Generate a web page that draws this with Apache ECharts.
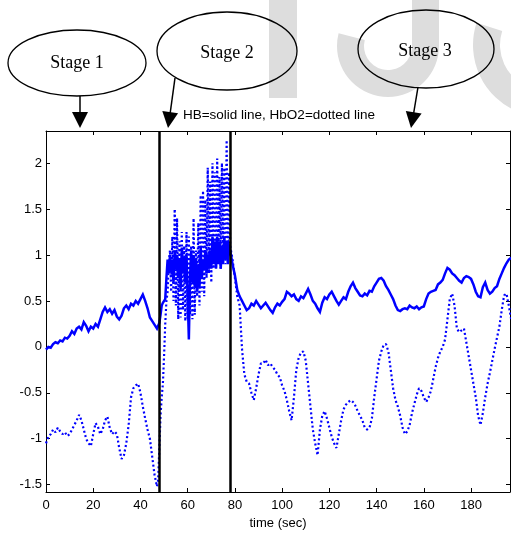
<!DOCTYPE html>
<html><head><meta charset="utf-8">
<script src="https://cdn.jsdelivr.net/npm/echarts@6/dist/echarts.min.js"></script>
<style>html,body{margin:0;padding:0;background:#fff}#c{width:511px;height:535px}</style>
</head><body><div id="c"></div>
<script>
// ---- data ----
const timeStage1 = [0,1,2,3,4,5,6,7,8,9,10,11,12,13,14,15,16,17,18,19,20,21,22,23,24,25,26,27,28,29,30,31,32,33,34,35,36,37,38,39,40,41,42,43,44,45,46,47];
const hbStage1 = [-0.03,0.00,-0.01,0.03,0.05,0.04,0.07,0.06,0.10,0.09,0.12,0.17,0.14,0.20,0.22,0.19,0.27,0.23,0.17,0.22,0.20,0.25,0.22,0.30,0.38,0.43,0.38,0.41,0.36,0.40,0.33,0.30,0.34,0.42,0.45,0.41,0.47,0.45,0.50,0.47,0.52,0.57,0.50,0.42,0.32,0.28,0.24,0.20];
const hbo2Stage1 = [-1.05,-0.98,-0.95,-0.90,-0.93,-0.88,-0.92,-0.95,-0.93,-0.97,-0.95,-0.90,-0.85,-0.80,-0.74,-0.80,-0.90,-1.00,-1.05,-1.08,-0.95,-0.83,-0.87,-0.95,-0.90,-0.80,-0.76,-0.88,-0.95,-0.92,-0.95,-1.10,-1.22,-1.18,-1.05,-0.85,-0.55,-0.45,-0.42,-0.40,-0.50,-0.65,-0.78,-0.90,-1.00,-1.20,-1.40,-1.52];

const timeStage2 = [47.5,48,48.5,49,49.5,50,50.5,51,51.5,52,52.5,53,53.5,54,54.5,55,55.5,56,56.5,57,57.5,58,58.5,59,59.5,60,60.5,61,61.5,62,62.5,63,63.5,64,64.5,65,65.5,66,66.5,67,67.5,68,68.5,69,69.5,70,70.5,71,71.5,72,72.5,73,73.5,74,74.5,75,75.5,76,76.5,77,77.5,78];
const hbStage2 = [0.22,0.26,0.35,0.45,0.48,0.50,0.52,0.75,0.95,0.80,1.00,0.85,0.95,0.70,1.05,0.85,1.00,0.75,0.95,0.62,1.08,0.80,0.98,0.70,1.00,0.55,0.08,0.75,1.05,0.70,1.00,0.65,0.95,0.60,0.90,0.65,1.10,0.75,0.95,0.85,1.05,0.80,1.00,0.85,1.05,0.85,1.20,0.90,1.15,0.85,1.20,0.90,1.15,0.85,1.10,0.90,1.20,0.95,1.15,0.90,1.10,1.05];
const hbo2Stage2 = [-1.45,-1.10,-0.75,-0.55,-0.40,-0.10,0.25,0.50,0.60,0.90,1.05,0.60,1.20,0.50,1.50,0.45,1.40,0.30,1.15,0.32,1.25,0.40,1.10,0.28,1.25,0.30,1.20,0.35,1.10,0.30,1.40,0.35,1.05,0.55,1.35,0.45,1.65,0.60,1.70,0.55,1.60,0.75,1.95,0.80,1.80,0.70,2.00,0.85,1.90,0.85,2.05,0.90,1.85,0.85,2.00,0.95,1.95,0.90,2.25,1.00,1.90,1.10];

const timeStage3 = [79,80,81,82,83,84,85,86,87,88,89,90,91,92,93,94,95,96,97,98,99,100,101,102,103,104,105,106,107,108,109,110,111,112,113,114,115,116,117,118,119,120,121,122,123,124,125,126,127,128,129,130,131,132,133,134,135,136,137,138,139,140,141,142,143,144,145,146,147,148,149,150,151,152,153,154,155,156,157,158,159,160,161,162,163,164,165,166,167,168,169,170,171,172,173,174,175,176,177,178,179,180,181,182,183,184,185,186,187,188,189,190,191,192,193,194,195,196,197];
const hbStage3 = [0.90,0.78,0.62,0.55,0.50,0.45,0.40,0.42,0.47,0.45,0.50,0.46,0.42,0.45,0.48,0.44,0.40,0.37,0.43,0.47,0.45,0.49,0.52,0.60,0.58,0.55,0.57,0.52,0.50,0.55,0.53,0.58,0.63,0.57,0.50,0.47,0.42,0.38,0.48,0.54,0.52,0.57,0.60,0.55,0.50,0.46,0.50,0.54,0.52,0.60,0.66,0.70,0.64,0.60,0.56,0.55,0.58,0.56,0.61,0.60,0.66,0.70,0.74,0.75,0.72,0.66,0.62,0.57,0.52,0.45,0.40,0.39,0.41,0.42,0.41,0.45,0.43,0.42,0.44,0.41,0.43,0.44,0.52,0.58,0.60,0.61,0.62,0.68,0.70,0.73,0.80,0.86,0.84,0.80,0.78,0.75,0.72,0.70,0.75,0.77,0.76,0.74,0.68,0.60,0.55,0.54,0.65,0.70,0.62,0.58,0.60,0.64,0.66,0.74,0.80,0.86,0.91,0.95,0.97];
const hbo2Stage3 = [0.95,0.75,0.55,0.45,-0.02,-0.30,-0.38,-0.40,-0.50,-0.58,-0.45,-0.30,-0.18,-0.18,-0.14,-0.20,-0.18,-0.22,-0.25,-0.30,-0.33,-0.42,-0.48,-0.58,-0.70,-0.80,-0.55,-0.25,-0.12,-0.06,-0.05,-0.15,-0.40,-0.65,-0.90,-1.05,-1.18,-0.90,-0.75,-0.70,-0.78,-0.88,-0.98,-1.05,-1.10,-0.95,-0.80,-0.68,-0.63,-0.60,-0.58,-0.60,-0.64,-0.70,-0.75,-0.80,-0.88,-0.90,-0.88,-0.78,-0.55,-0.35,-0.15,-0.05,0.02,0.03,-0.05,-0.25,-0.45,-0.58,-0.65,-0.75,-0.88,-0.95,-0.92,-0.85,-0.72,-0.62,-0.52,-0.45,-0.48,-0.55,-0.60,-0.55,-0.48,-0.35,-0.22,-0.12,-0.05,0.00,0.08,0.30,0.52,0.58,0.45,0.20,0.16,0.18,0.20,0.05,-0.10,-0.25,-0.40,-0.55,-0.75,-0.85,-0.72,-0.55,-0.40,-0.28,-0.15,-0.02,0.10,0.22,0.40,0.56,0.58,0.45,0.30];

const stageBoundaries = [48, 78];
const stageLabels = ['Stage 1', 'Stage 2', 'Stage 3'];
const xTicks = [0,20,40,60,80,100,120,140,160,180];
const yTicks = [-1.5,-1,-0.5,0,0.5,1,1.5,2];
const titleText = 'HB=solid line, HbO2=dotted line';
const xName = 'time (sec)';

// ---- build ----
const time = timeStage1.concat(timeStage2, timeStage3);
const hb = hbStage1.concat(hbStage2, hbStage3);
const hbo2 = hbo2Stage1.concat(hbo2Stage2, hbo2Stage3);
const hbData = time.map((t, i) => [t, hb[i]]);
const hbo2Data = time.map((t, i) => [t, hbo2[i]]);

const X_MIN = 0, X_MAX = 196.5, Y_MIN = -1.58, Y_MAX = 2.35;
const labelFont = {color:'#000', fontSize:13, fontFamily:'Liberation Sans, Arial, sans-serif'};

function xAxisDef(pos, showLabel) {
  return {
    type:'value', position:pos, min:X_MIN, max:X_MAX,
    axisLine:{show:true, onZero:false, lineStyle:{color:'#000', width:1}},
    axisTick:{show:true, inside:true, length:4, customValues:xTicks, lineStyle:{color:'#000'}},
    axisLabel:Object.assign({show:showLabel, customValues:xTicks, margin:7}, labelFont),
    splitLine:{show:false},
    name: showLabel ? xName : '', nameLocation:'middle', nameGap:25,
    nameTextStyle:labelFont
  };
}
function yAxisDef(pos, showLabel) {
  return {
    type:'value', position:pos, min:Y_MIN, max:Y_MAX,
    axisLine:{show:true, onZero:false, lineStyle:{color:'#000', width:1}},
    axisTick:{show:true, inside:true, length:4, customValues:yTicks, lineStyle:{color:'#000'}},
    axisLabel:Object.assign({show:showLabel, customValues:yTicks, margin:4}, labelFont),
    splitLine:{show:false}
  };
}

const wm = '#dddddd';
const ellipses = [
  {cx:77, cy:63, rx:69, ry:33, tx:77, ty:63},
  {cx:227, cy:51, rx:70, ry:39, tx:227, ty:53},
  {cx:426, cy:49, rx:68, ry:39, tx:425, ty:51}
];
const graphics = [
  {type:'rect', shape:{x:269, y:0, width:28, height:98}, style:{fill:wm}, z:-10},
  {type:'rect', shape:{x:412, y:0, width:27, height:46}, style:{fill:wm}, z:-10},
  {type:'sector', shape:{cx:388, cy:46, r:51, r0:24, startAngle:0, endAngle:Math.PI*1.08, clockwise:true}, style:{fill:wm}, z:-10},
  {type:'sector', shape:{cx:545, cy:45, r:72, r0:45, startAngle:Math.PI*0.62, endAngle:Math.PI*1.1, clockwise:true}, style:{fill:wm}, z:-10}
];
ellipses.forEach((e, i) => {
  graphics.push({type:'ellipse', shape:{cx:e.cx, cy:e.cy, rx:e.rx, ry:e.ry}, style:{fill:'none', stroke:'#000', lineWidth:1.3}, z:5});
  graphics.push({type:'text', x:e.tx, y:e.ty, style:{text:stageLabels[i], fill:'#000', font:'18px "Liberation Serif", "Times New Roman", serif', align:'center', verticalAlign:'middle'}, z:6});
});
// arrows
graphics.push({type:'line', shape:{x1:80, y1:96, x2:80, y2:114}, style:{stroke:'#000', lineWidth:1.5}, z:5});
graphics.push({type:'polygon', shape:{points:[[72,112],[88,112],[80,128]]}, style:{fill:'#000'}, z:5});
graphics.push({type:'line', shape:{x1:175, y1:78, x2:170.2, y2:113}, style:{stroke:'#000', lineWidth:1.5}, z:5});
graphics.push({type:'polygon', shape:{points:[[178.1,113.3],[162.3,111.1],[168,128]]}, style:{fill:'#000'}, z:5});
graphics.push({type:'line', shape:{x1:418, y1:87, x2:413.7, y2:113}, style:{stroke:'#000', lineWidth:1.5}, z:5});
graphics.push({type:'polygon', shape:{points:[[421.6,113.5],[405.8,110.9],[411,128]]}, style:{fill:'#000'}, z:5});
// title
graphics.push({type:'text', x:279, y:115, style:{text:titleText, fill:'#000', font:'13.5px "Liberation Sans", Arial, sans-serif', align:'center', verticalAlign:'middle'}, z:6});

const chart = echarts.init(document.getElementById('c'), null, {renderer:'canvas'});
chart.setOption({
  animation:false,
  backgroundColor:'#fff',
  grid:{left:46, right:1, top:131, bottom:38, containLabel:false},
  xAxis:[xAxisDef('bottom', true), xAxisDef('top', false)],
  yAxis:[yAxisDef('left', true), yAxisDef('right', false)],
  graphic:graphics,
  series:[
    {type:'line', name:'HB', data:hbData, symbol:'none', clip:true,
     lineStyle:{color:'#0000ff', width:2.5, join:'miter'}, z:3},
    {type:'line', name:'HbO2', data:hbo2Data, symbol:'none', clip:true,
     lineStyle:{color:'#0000ff', width:2.2, type:[2,2.5], cap:'butt'}, z:2,
     markLine:{silent:true, symbol:['none','none'], label:{show:false},
       lineStyle:{color:'#000', width:2.5, type:'solid'},
       data:stageBoundaries.map(v => ({xAxis:v})), z:10}}
  ]
});
</script></body></html>
